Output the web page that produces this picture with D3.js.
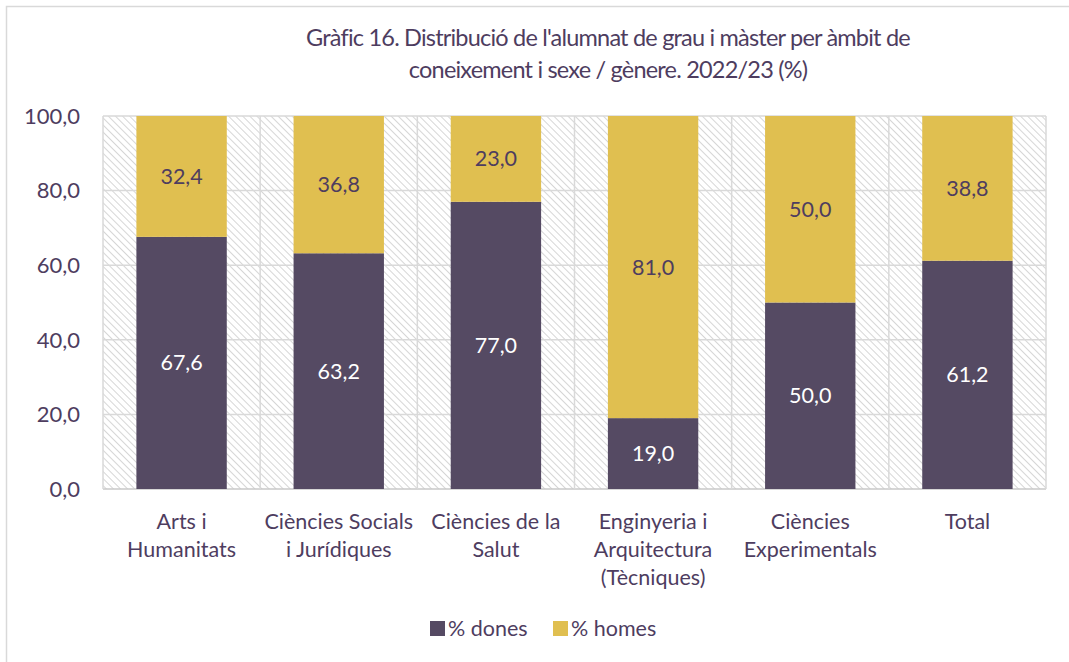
<!DOCTYPE html>
<html>
<head>
<meta charset="utf-8">
<script src="https://cdn.jsdelivr.net/npm/d3@7"></script>
<style>
  body { margin: 0; background: #fff; }
  svg { display: block; font-family: Lato, "Open Sans", sans-serif; }
</style>
</head>
<body>
<svg id="chart" width="1069" height="662"></svg>
<script>
var categories = [
    ['Arts i', 'Humanitats'],
    ['Ciències Socials', 'i Jurídiques'],
    ['Ciències de la', 'Salut'],
    ['Enginyeria i', 'Arquitectura', '(Tècniques)'],
    ['Ciències', 'Experimentals'],
    ['Total']
];
var dones = [67.6, 63.2, 77.0, 19.0, 50.0, 61.2];
var homes = [32.4, 36.8, 23.0, 81.0, 50.0, 38.8];
var yTicks = [0, 20, 40, 60, 80, 100];
var seriesNames = ['% dones', '% homes'];

var colors = ['#554a63', '#e0bf50'];
var textColor = '#4e3d5f';
var fs = 21.5;

var svg = d3.select('#chart');
var margin = {left: 103, right: 1046, top: 116, bottom: 489};

// frame
svg.append('rect')
    .attr('x', 6.5).attr('y', 6.5)
    .attr('width', 1100).attr('height', 700)
    .attr('fill', 'none').attr('stroke', '#d9d9d9').attr('stroke-width', 1.5);

// hatch
var defs = svg.append('defs');
var pat = defs.append('pattern')
    .attr('id', 'hatch')
    .attr('patternUnits', 'userSpaceOnUse')
    .attr('width', 5).attr('height', 5)
    .attr('patternTransform', 'rotate(45)');
pat.append('rect').attr('width', 5).attr('height', 5).attr('fill', '#fff');
pat.append('line')
    .attr('x1', 0).attr('y1', 0).attr('x2', 5).attr('y2', 0)
    .attr('stroke', '#d6d6d6').attr('stroke-width', 2);

var x = d3.scaleBand()
    .domain(d3.range(categories.length))
    .range([margin.left, margin.right])
    .paddingInner(0)
    .paddingOuter(0);

var y = d3.scaleLinear().domain([0, 100]).range([margin.bottom, margin.top]);

svg.append('rect')
    .attr('x', margin.left).attr('y', margin.top)
    .attr('width', margin.right - margin.left)
    .attr('height', margin.bottom - margin.top)
    .attr('fill', 'url(#hatch)');

// grid
svg.append('g').selectAll('line.h')
    .data(yTicks).enter().append('line')
    .attr('x1', margin.left).attr('x2', margin.right)
    .attr('y1', function(d) { return y(d); })
    .attr('y2', function(d) { return y(d); })
    .attr('stroke', function(d) { return d === 0 ? '#c8c8c8' : '#d9d9d9'; })
    .attr('stroke-width', 1.5);

var edges = d3.range(categories.length + 1).map(function(i) {
    return i < categories.length ? x(i) : margin.right;
});
svg.append('g').selectAll('line.v')
    .data(edges).enter().append('line')
    .attr('x1', function(d) { return d; }).attr('x2', function(d) { return d; })
    .attr('y1', margin.top).attr('y2', margin.bottom)
    .attr('stroke', '#d9d9d9').attr('stroke-width', 1.5);

// bars
var barW = x.bandwidth() * 0.575;
var stacks = categories.map(function(c, i) {
    return [
        {s: 0, y0: 0, y1: dones[i], v: dones[i], i: i},
        {s: 1, y0: dones[i], y1: dones[i] + homes[i], v: homes[i], i: i}
    ];
});
var segs = [].concat.apply([], stacks);

svg.append('g').selectAll('rect')
    .data(segs).enter().append('rect')
    .attr('x', function(d) { return x(d.i) + (x.bandwidth() - barW) / 2; })
    .attr('width', barW)
    .attr('y', function(d) { return y(Math.min(d.y1, 100)); })
    .attr('height', function(d) { return y(d.y0) - y(Math.min(d.y1, 100)); })
    .attr('fill', function(d) { return colors[d.s]; });

var fmt = function(v) { return v.toFixed(1).replace('.', ','); };

svg.append('g').selectAll('text')
    .data(segs).enter().append('text')
    .attr('x', function(d) { return x(d.i) + x.bandwidth() / 2; })
    .attr('y', function(d) { return y((d.y0 + d.y1) / 2); })
    .attr('dy', '0.35em')
    .attr('text-anchor', 'middle')
    .attr('font-size', fs)
    .attr('fill', function(d) { return d.s === 0 ? '#fff' : textColor; })
    .text(function(d) { return fmt(d.v); });

// y axis labels
svg.append('g').selectAll('text')
    .data(yTicks).enter().append('text')
    .attr('x', 80)
    .attr('y', function(d) { return y(d); })
    .attr('dy', '0.35em')
    .attr('text-anchor', 'end')
    .attr('font-size', 22)
    .attr('fill', textColor)
    .text(fmt);

// x labels
var xl = svg.append('g').selectAll('text')
    .data(categories).enter().append('text')
    .attr('x', function(d, i) { return x(i) + x.bandwidth() / 2; })
    .attr('y', 521)
    .attr('text-anchor', 'middle')
    .attr('font-size', fs)
    .attr('fill', textColor);
xl.selectAll('tspan')
    .data(function(d) { return d; }).enter().append('tspan')
    .attr('x', function() { return this.parentNode.getAttribute('x'); })
    .attr('dy', function(d, j) { return j === 0 ? '0.35em' : 28; })
    .text(function(d) { return d; });

// title
var titleLines = ["Gràfic 16. Distribució de l'alumnat de grau i màster per àmbit de",
    'coneixement i sexe / gènere. 2022/23 (%)'];
svg.append('g').selectAll('text')
    .data(titleLines).enter().append('text')
    .attr('x', 608).attr('y', function(d, i) { return 38 + i * 32; })
    .attr('dy', '0.35em')
    .attr('text-anchor', 'middle').attr('font-size', 23.5)
    .attr('letter-spacing', -0.8)
    .attr('fill', textColor)
    .text(function(d) { return d; });

// legend
var legX = [430, 553];
var leg = svg.append('g').selectAll('g')
    .data(seriesNames).enter().append('g')
    .attr('transform', function(d, i) { return 'translate(' + legX[i] + ',628)'; });
leg.append('rect')
    .attr('x', 0).attr('y', -7).attr('width', 15).attr('height', 15)
    .attr('fill', function(d, i) { return colors[i]; });
leg.append('text')
    .attr('x', 18).attr('dy', '0.35em')
    .attr('font-size', fs).attr('fill', textColor)
    .text(function(d) { return d; });
</script>
</body>
</html>
